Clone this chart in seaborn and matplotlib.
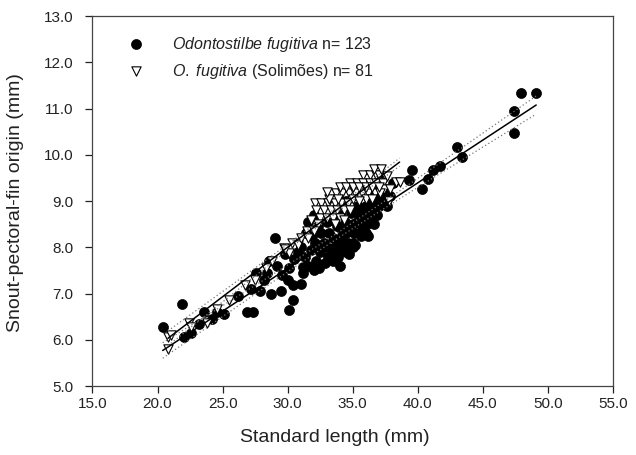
import numpy as np
import pandas as pd
import matplotlib
matplotlib.use("Agg")
import matplotlib.pyplot as plt
import seaborn as sns

# ---- data: Odontostilbe fugitiva (circles) ----
circ_x = [20.4, 21.9, 22.0, 22.6, 23.2, 23.6, 24.2, 24.6, 25.1, 26.2, 26.9, 27.3, 27.2, 27.6,
          27.9, 28.2, 28.6, 28.7, 29.0, 29.2, 29.6, 29.5, 30.0, 30.1, 30.5, 30.4, 30.1, 31.0,
          31.0, 31.4, 31.6, 32.0, 32.1, 31.2, 32.5, 32.6, 33.0, 33.1, 33.0, 33.5, 33.5, 34.0,
          34.0, 34.1, 34.5, 34.5, 35.0, 35.0, 35.5, 35.5, 36.0, 36.0, 36.5, 37.0, 37.2, 38.1,
          39.3, 39.55, 40.3, 40.8, 41.2, 41.7, 43.0, 43.4, 47.4, 47.4, 47.9, 49.1,
          30.8, 31.3, 31.8, 31.9, 32.2, 32.3, 32.4, 32.8, 32.9, 33.2, 33.3, 33.4, 33.6, 33.7,
          33.8, 34.0, 34.2, 34.3, 34.4, 34.6, 34.7, 34.8, 34.9, 35.1, 35.2, 35.3, 35.4, 35.6,
          35.7, 35.8, 35.9, 36.1, 36.2, 36.3, 36.4, 36.6, 36.7, 36.9, 37.1, 37.4, 37.6, 37.9,
          32.0, 31.6, 36.4, 37.3, 36.8, 28.4, 29.8, 31.2, 30.4, 33.9, 35.0, 36.0, 34.5]
circ_y = [6.28, 6.77, 6.05, 6.15, 6.35, 6.60, 6.45, 6.60, 6.55, 6.95, 6.60, 6.60, 7.10, 7.45,
          7.05, 7.30, 7.70, 7.00, 8.20, 7.60, 7.40, 7.05, 7.30, 7.55, 7.75, 6.85, 6.65, 7.20,
          8.00, 8.30, 7.60, 7.50, 8.10, 7.45, 7.90, 8.30, 8.00, 7.80, 8.55, 7.70, 8.20, 8.10,
          7.60, 8.40, 7.90, 8.30, 8.50, 8.10, 8.70, 8.30, 8.60, 8.90, 8.60, 8.90, 9.45, 9.38,
          9.45, 9.67, 9.27, 9.47, 9.67, 9.76, 10.17, 9.96, 10.46, 10.95, 11.34, 11.34,
          7.90, 7.80, 7.95, 8.25, 7.70, 8.45, 7.55, 8.10, 7.65, 8.30, 7.95, 8.60, 8.00, 7.85,
          8.45, 8.70, 8.25, 7.95, 8.55, 8.10, 7.85, 8.40, 8.75, 8.30, 8.05, 8.55, 8.90, 8.25,
          8.45, 8.80, 8.35, 8.50, 8.25, 8.75, 9.00, 8.50, 8.85, 8.70, 9.05, 9.00, 8.90, 9.10,
          8.70, 8.55, 9.15, 9.20, 9.20, 7.45, 7.85, 7.58, 7.18, 7.80, 8.00, 8.30, 9.00]

# ---- data: O. fugitiva (Solimoes) (triangles) ----
tri_x = [20.8, 20.8, 21.0, 22.4, 22.6, 23.8, 24.6, 25.5, 26.7, 27.5, 28.3, 28.8, 29.7, 30.1,
         30.3, 30.8, 29.8,
         35.8, 36.3, 36.8, 37.0, 38.3, 38.6,
         34.8, 35.3, 35.8, 36.3, 36.8, 37.3, 37.4, 37.9,
         33.7, 34.2, 34.7, 35.2, 35.7, 36.2, 36.7, 37.1,
         32.1, 32.6, 33.1, 33.6, 34.1, 34.6,
         32.2, 32.8, 33.3, 33.8, 34.3, 34.8,
         32.5, 33.0, 33.5, 34.0, 32.3, 33.6,
         34.0, 34.5, 35.0, 35.5, 36.0, 36.5, 37.0,
         33.2, 33.9, 35.0, 36.0, 36.5,
         31.5, 32.0, 31.0, 31.6, 36.6, 37.2, 31.8, 37.8,
         33.0, 35.5, 34.3, 37.6]
tri_y = [5.79, 6.07, 6.10, 6.37, 6.28, 6.36, 6.66, 6.85, 7.18, 7.30, 7.55, 7.70, 7.98, 7.87,
         8.10, 8.05, 7.96,
         9.56, 9.56, 9.56, 9.56, 9.42, 9.42,
         9.40, 9.40, 9.40, 9.40, 9.40, 9.40, 9.27, 9.27,
         9.17, 9.17, 9.17, 9.17, 9.17, 9.17, 9.17, 9.17,
         8.96, 8.96, 8.96, 8.96, 8.96, 8.96,
         8.80, 8.80, 8.80, 8.80, 8.80, 8.80,
         8.63, 8.63, 8.63, 8.63, 8.50, 8.50,
         9.30, 9.30, 9.30, 9.30, 9.30, 9.30, 9.30,
         9.05, 9.05, 9.05, 9.05, 9.05,
         8.35, 8.35, 8.20, 8.20, 9.70, 9.70, 8.60, 9.00,
         9.20, 9.00, 8.60, 9.55]

x_ticks = [15.0, 20.0, 25.0, 30.0, 35.0, 40.0, 45.0, 50.0, 55.0]
y_ticks = [5.0, 6.0, 7.0, 8.0, 9.0, 10.0, 11.0, 12.0, 13.0]

label_circ = r"$\it{Odontostilbe\ fugitiva}$ n= 123"
label_tri = r"$\it{O.\ fugitiva}$ (Solimões) n= 81"

sns.set_style("ticks")
plt.rcParams['font.family'] = ['Liberation Sans', 'DejaVu Sans']
plt.rcParams['mathtext.fontset'] = 'custom'
plt.rcParams['mathtext.rm'] = 'Liberation Sans'
plt.rcParams['mathtext.it'] = 'Liberation Sans:italic'

txt = '#222222'
fig = plt.figure(figsize=(6.36, 4.55), dpi=100)
ax = fig.add_axes([0.1454, 0.1516, 0.8184, 0.8132])

df_c = pd.DataFrame({'x': circ_x, 'y': circ_y})
df_t = pd.DataFrame({'x': tri_x, 'y': tri_y})

sns.scatterplot(data=df_c, x='x', y='y', ax=ax, marker='o', s=52, color='black',
                edgecolor='black', linewidth=0.5, label=label_circ, zorder=3)
sns.scatterplot(data=df_t, x='x', y='y', ax=ax, marker='v', s=45, color='white',
                edgecolor='black', linewidth=0.8, label=label_tri, zorder=4)


def fit_lines(x, y):
    x = np.asarray(x); y = np.asarray(y)
    b, a = np.polyfit(x, y, 1)
    n = len(x)
    xs = np.linspace(x.min(), x.max(), 100)
    yhat = a + b * xs
    resid = y - (a + b * x)
    s = np.sqrt(np.sum(resid ** 2) / (n - 2))
    se = s * np.sqrt(1.0 / n + (xs - x.mean()) ** 2 / np.sum((x - x.mean()) ** 2))
    return xs, yhat, 1.98 * se


for xx, yy in [(circ_x, circ_y), (tri_x, tri_y)]:
    xs, yh, ci = fit_lines(xx, yy)
    ax.plot(xs, yh, color='black', lw=1.1, zorder=5)
    ax.plot(xs, yh + ci, color='#777777', lw=0.9, ls=(0, (1, 2)), zorder=5)
    ax.plot(xs, yh - ci, color='#777777', lw=0.9, ls=(0, (1, 2)), zorder=5)

ax.set_xlim(15, 55)
ax.set_ylim(5, 13)
ax.set_xticks(x_ticks)
ax.set_yticks(y_ticks)
ax.set_xticklabels([f"{v:.1f}" for v in x_ticks])
ax.set_yticklabels([f"{v:.1f}" for v in y_ticks])
ax.tick_params(axis='both', direction='out', length=5, width=0.9, labelsize=11,
               colors=txt)
ax.tick_params(axis='x', pad=3)
ax.tick_params(axis='y', pad=9)
for sp in ax.spines.values():
    sp.set_visible(True)
    sp.set_color('#444444')
    sp.set_linewidth(0.9)

ax.set_xlabel("Standard length (mm)", fontsize=14, color=txt)
ax.set_ylabel("Snout-pectoral-fin origin (mm)", fontsize=14, color=txt)
ax.xaxis.set_label_coords(0.466, -0.138, transform=ax.transAxes)
ax.yaxis.set_label_coords(-0.147, 0.496, transform=ax.transAxes)
ax.xaxis.label.set_va('center')
ax.yaxis.label.set_va('center')

leg = ax.legend(loc='upper left', bbox_to_anchor=(0.04, 0.967), frameon=False,
                fontsize=11.5, handletextpad=1.3, labelspacing=0.5, markerscale=1.0,
                borderaxespad=0)
for t in leg.get_texts():
    t.set_color(txt)

fig.savefig("out.png", dpi=100)
